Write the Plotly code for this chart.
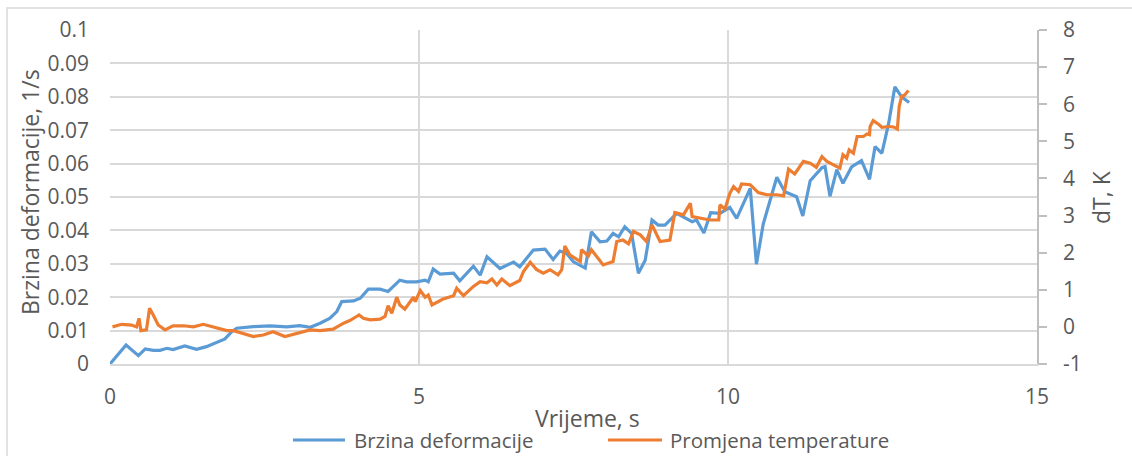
import plotly.graph_objects as go

# Strain rate (left axis)
time_rate = [0, 0.26, 0.46, 0.57, 0.70, 0.81, 0.92, 1.02, 1.21, 1.40,
             1.56, 1.73, 1.86, 1.97, 2.05, 2.32, 2.59, 2.86, 3.07, 3.24,
             3.40, 3.56, 3.67, 3.75, 3.94, 4.05, 4.18, 4.37, 4.50, 4.69,
             4.80, 4.96, 5.10, 5.15, 5.23, 5.34, 5.56, 5.66, 5.88, 5.99,
             6.10, 6.31, 6.53, 6.63, 6.85, 7.04, 7.17, 7.28, 7.39, 7.50,
             7.69, 7.79, 7.93, 8.04, 8.14, 8.23, 8.33, 8.44, 8.55, 8.66,
             8.77, 8.87, 8.98, 9.17, 9.42, 9.49, 9.61, 9.72, 9.87, 10.03,
             10.14, 10.36, 10.46, 10.57, 10.79, 10.92, 11.11, 11.21, 11.33, 11.52,
             11.57, 11.65, 11.76, 11.86, 12.00, 12.16, 12.29, 12.38, 12.49, 12.60,
             12.70, 12.81, 12.93]
strain_rate = [0.0, 0.0057, 0.0025, 0.0045, 0.0041, 0.0041, 0.0047, 0.0043, 0.0054, 0.0044,
               0.0052, 0.0064, 0.0075, 0.0097, 0.0107, 0.0112, 0.0114, 0.0111, 0.0115, 0.0110,
               0.0122, 0.0137, 0.0157, 0.0187, 0.0189, 0.0197, 0.0224, 0.0224, 0.0217, 0.0251,
               0.0246, 0.0246, 0.0251, 0.0246, 0.0284, 0.0269, 0.0272, 0.0249, 0.0293, 0.0266,
               0.0321, 0.0286, 0.0305, 0.0291, 0.0341, 0.0344, 0.0313, 0.0338, 0.0331, 0.0306,
               0.0287, 0.0396, 0.0366, 0.0368, 0.0391, 0.0381, 0.0411, 0.0391, 0.0272, 0.0311,
               0.0431, 0.0416, 0.0416, 0.0451, 0.0426, 0.0431, 0.0392, 0.0453, 0.0451, 0.0469,
               0.0436, 0.0526, 0.0299, 0.0419, 0.0559, 0.0516, 0.0501, 0.0443, 0.0549, 0.0588,
               0.0591, 0.0502, 0.0582, 0.0541, 0.0590, 0.0609, 0.0553, 0.0651, 0.0631, 0.0721,
               0.0830, 0.0800, 0.0783]

# Temperature change (right axis)
time_temp = [0.04, 0.19, 0.35, 0.43, 0.47, 0.50, 0.59, 0.64, 0.70, 0.78,
             0.89, 1.02, 1.19, 1.35, 1.51, 1.67, 1.89, 2.00, 2.16, 2.32,
             2.48, 2.64, 2.83, 3.02, 3.24, 3.40, 3.61, 3.78, 3.88, 3.99,
             4.03, 4.10, 4.21, 4.37, 4.45, 4.50, 4.56, 4.64, 4.69, 4.77,
             4.91, 4.94, 5.02, 5.10, 5.15, 5.21, 5.39, 5.56, 5.61, 5.72,
             5.88, 5.99, 6.10, 6.18, 6.26, 6.34, 6.47, 6.63, 6.69, 6.80,
             6.90, 7.01, 7.12, 7.25, 7.31, 7.36, 7.44, 7.61, 7.63, 7.74,
             7.79, 7.98, 8.14, 8.20, 8.30, 8.39, 8.47, 8.58, 8.68, 8.77,
             8.90, 9.06, 9.14, 9.28, 9.39, 9.42, 9.55, 9.71, 9.85, 9.87,
             9.95, 10.03, 10.09, 10.17, 10.22, 10.36, 10.49, 10.63, 10.79, 10.90,
             10.98, 11.08, 11.22, 11.33, 11.43, 11.52, 11.60, 11.71, 11.81, 11.86,
             11.92, 11.96, 12.03, 12.09, 12.19, 12.25, 12.29, 12.30, 12.35, 12.43,
             12.49, 12.62, 12.69, 12.74, 12.77, 12.81, 12.86, 12.92]
temp_change = [0.0, 0.07, 0.05, 0.0, 0.23, -0.1, -0.08, 0.5, 0.32, 0.05,
               -0.08, 0.03, 0.03, 0.0, 0.07, 0.0, -0.1, -0.1, -0.17, -0.26,
               -0.22, -0.13, -0.26, -0.17, -0.08, -0.1, -0.06, 0.1, 0.17, 0.28,
               0.32, 0.23, 0.19, 0.21, 0.28, 0.57, 0.37, 0.8, 0.59, 0.48,
               0.8, 0.68, 0.98, 0.8, 0.86, 0.59, 0.75, 0.84, 1.04, 0.84,
               1.09, 1.22, 1.19, 1.29, 1.13, 1.29, 1.11, 1.25, 1.49, 1.74,
               1.55, 1.45, 1.54, 1.40, 1.54, 2.18, 1.94, 1.76, 2.08, 1.91,
               2.08, 1.67, 1.76, 2.30, 2.34, 2.24, 2.57, 2.48, 2.30, 2.75,
               2.30, 2.34, 3.08, 3.02, 3.33, 2.97, 2.93, 2.88, 2.88, 3.29,
               3.17, 3.60, 3.78, 3.65, 3.85, 3.83, 3.62, 3.56, 3.56, 3.53,
               4.25, 4.12, 4.46, 4.41, 4.30, 4.59, 4.46, 4.37, 4.28, 4.64,
               4.55, 4.77, 4.68, 5.13, 5.13, 5.20, 5.18, 5.40, 5.56, 5.47,
               5.38, 5.40, 5.38, 5.33, 5.94, 6.21, 6.25, 6.37]

left_ticks = [0, 0.01, 0.02, 0.03, 0.04, 0.05, 0.06, 0.07, 0.08, 0.09, 0.1]
left_tick_text = ["0", "0.01", "0.02", "0.03", "0.04", "0.05", "0.06", "0.07", "0.08", "0.09", "0.1"]
right_ticks = [-1, 0, 1, 2, 3, 4, 5, 6, 7, 8]
right_tick_text = ["-1", "0", "1", "2", "3", "4", "5", "6", "7", "8"]
x_ticks = [0, 5, 10, 15]

series_names = ["Brzina deformacije", "Promjena temperature"]
BLUE = "#5B9BD5"
ORANGE = "#ED7D31"
TEXT = "#595959"
GRID = "#D9D9D9"
FONT = "Open Sans"

W, H = 1132, 456
L, R, T, B = 110, 95, 30, 92
pw, ph = W - L - R, H - T - B


def px(xp):
    return (xp - L) / pw


def py(yp):
    return (H - B - yp) / ph


fig = go.Figure()
fig.add_trace(go.Scatter(x=time_rate, y=strain_rate, mode="lines", name=series_names[0],
                         line=dict(color=BLUE, width=3.2), yaxis="y"))
fig.add_trace(go.Scatter(x=time_temp, y=temp_change, mode="lines", name=series_names[1],
                         line=dict(color=ORANGE, width=3.2), yaxis="y2"))

fig.update_layout(
    width=W, height=H,
    margin=dict(l=L, r=R, t=T, b=B),
    paper_bgcolor="white", plot_bgcolor="white",
    showlegend=False,
    font=dict(family=FONT, color=TEXT, size=20),
    xaxis=dict(range=[0, 15], tickvals=x_ticks, showgrid=True, gridcolor=GRID, gridwidth=1.5,
               zeroline=False, showline=True, linecolor=GRID, linewidth=1.5,
               ticks="", tickfont=dict(size=21, color=TEXT), ticklabelstandoff=13),
    yaxis=dict(range=[0, 0.1], tickvals=left_ticks, ticktext=left_tick_text,
               showgrid=True, gridcolor=GRID, gridwidth=1.5, zeroline=False,
               showline=False, ticks="", tickfont=dict(size=21, color=TEXT),
               ticklabelstandoff=20),
    yaxis2=dict(range=[-1, 8], tickvals=right_ticks, ticktext=right_tick_text,
                overlaying="y", side="right",
                showgrid=False, zeroline=False, showline=True, linecolor="#BFBFBF",
                linewidth=1.5, ticks="outside", ticklen=8, tickcolor="#BFBFBF", tickwidth=1.5,
                tickfont=dict(size=21, color=TEXT), ticklabelstandoff=12),
)

annotations = [
    dict(text="Vrijeme, s", x=px(587), y=py(418), xref="paper", yref="paper",
         showarrow=False, xanchor="center", yanchor="middle", font=dict(size=23, color=TEXT)),
    dict(text="Brzina deformacije, 1/s", x=px(30), y=py(192), xref="paper", yref="paper",
         showarrow=False, xanchor="center", yanchor="middle", textangle=-90,
         font=dict(size=23, color=TEXT)),
    dict(text="dT, K", x=px(1101), y=py(197), xref="paper", yref="paper",
         showarrow=False, xanchor="center", yanchor="middle", textangle=-90,
         font=dict(size=23, color=TEXT)),
    dict(text=series_names[0], x=px(352), y=py(440), xref="paper", yref="paper",
         showarrow=False, xanchor="left", yanchor="middle", font=dict(size=20.5, color=TEXT)),
    dict(text=series_names[1], x=px(668), y=py(440), xref="paper", yref="paper",
         showarrow=False, xanchor="left", yanchor="middle", font=dict(size=20.5, color=TEXT)),
]
fig.update_layout(annotations=annotations)

shapes = [
    # legend samples
    dict(type="line", xref="paper", yref="paper", x0=px(293), x1=px(345), y0=py(440), y1=py(440),
         line=dict(color=BLUE, width=3.2)),
    dict(type="line", xref="paper", yref="paper", x0=px(608), x1=px(662), y0=py(440), y1=py(440),
         line=dict(color=ORANGE, width=3.2)),
    # chart area border
    dict(type="rect", xref="paper", yref="paper", x0=px(7), x1=px(1140), y0=py(8), y1=py(470),
         line=dict(color=GRID, width=1.5), fillcolor="rgba(0,0,0,0)", layer="below"),
]
fig.update_layout(shapes=shapes)

fig.write_html("out.html")
